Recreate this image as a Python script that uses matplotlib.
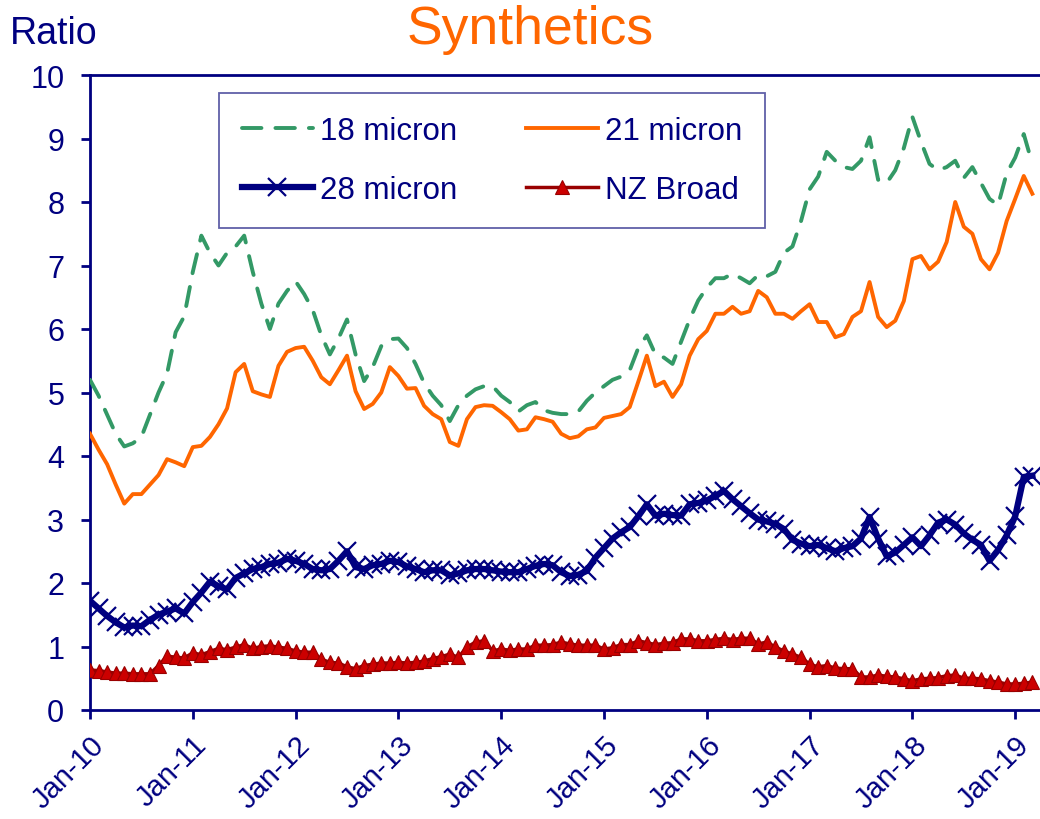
import matplotlib
matplotlib.use("Agg")
import matplotlib.pyplot as plt
import numpy as np

plt.rcParams['font.family'] = ['Liberation Sans', 'DejaVu Sans']

NAVY = '#000080'

# ---- data (monthly, Jan-10 .. Mar-19) ----
tick_labels = ['Jan-10', 'Jan-11', 'Jan-12', 'Jan-13', 'Jan-14', 'Jan-15',
               'Jan-16', 'Jan-17', 'Jan-18', 'Jan-19']
series_names = ['18 micron', '21 micron', '28 micron', 'NZ Broad']

micron18 = [5.2, 4.95, 4.65, 4.35, 4.15, 4.2, 4.3, 4.65, 5.0, 5.3,
            5.95, 6.2, 6.9, 7.47, 7.2, 7.0, 7.2, 7.3, 7.47, 6.9,
            6.4, 6.0, 6.4, 6.6, 6.75, 6.55, 6.3, 5.9, 5.6, 5.85,
            6.15, 5.6, 5.18, 5.4, 5.73, 5.84, 5.85, 5.7, 5.45, 5.15,
            4.95, 4.8, 4.55, 4.8, 4.95, 5.05, 5.1, 5.1, 4.95, 4.85,
            4.7, 4.8, 4.85, 4.72, 4.68, 4.66, 4.66, 4.7, 4.87, 5.0,
            5.1, 5.2, 5.25, 5.35, 5.7, 5.9, 5.6, 5.55, 5.45, 5.8,
            6.15, 6.45, 6.65, 6.8, 6.8, 6.87, 6.8, 6.72, 6.85, 6.83,
            6.9, 7.2, 7.3, 7.7, 8.2, 8.4, 8.79, 8.65, 8.55, 8.52,
            8.65, 9.02, 8.35, 8.3, 8.5, 8.85, 9.34, 8.95, 8.6, 8.5,
            8.55, 8.65, 8.38, 8.55, 8.3, 8.05, 7.95, 8.45, 8.7, 9.07,
            8.6]

micron21 = [4.35, 4.1, 3.87, 3.55, 3.25, 3.4, 3.4, 3.55, 3.7, 3.95,
            3.9, 3.84, 4.14, 4.16, 4.3, 4.5, 4.75, 5.32, 5.45, 5.02,
            4.97, 4.93, 5.42, 5.64, 5.7, 5.72, 5.5, 5.24, 5.13, 5.35,
            5.58, 5.02, 4.74, 4.82, 5.0, 5.4, 5.26, 5.06, 5.07, 4.79,
            4.66, 4.58, 4.22, 4.16, 4.58, 4.77, 4.8, 4.79, 4.69, 4.58,
            4.4, 4.42, 4.61, 4.58, 4.54, 4.35, 4.28, 4.31, 4.42, 4.45,
            4.6, 4.63, 4.66, 4.77, 5.17, 5.58, 5.1, 5.17, 4.93, 5.13,
            5.58, 5.84, 5.97, 6.24, 6.24, 6.35, 6.24, 6.28, 6.6, 6.5,
            6.24, 6.24, 6.16, 6.28, 6.39, 6.11, 6.11, 5.87, 5.92, 6.19,
            6.28, 6.74, 6.19, 6.03, 6.13, 6.44, 7.1, 7.15, 6.94, 7.06,
            7.37, 8.0, 7.61, 7.5, 7.1, 6.94, 7.2, 7.7, 8.05, 8.41,
            8.13]

micron28 = [1.72, 1.6, 1.48, 1.38, 1.3, 1.33, 1.32, 1.42, 1.5, 1.55,
            1.6, 1.52, 1.7, 1.85, 2.02, 1.95, 1.9, 2.08, 2.15, 2.22,
            2.25, 2.3, 2.32, 2.38, 2.35, 2.3, 2.22, 2.2, 2.22, 2.35,
            2.5, 2.25, 2.22, 2.28, 2.3, 2.35, 2.33, 2.26, 2.22, 2.17,
            2.2, 2.2, 2.12, 2.15, 2.2, 2.22, 2.22, 2.2, 2.18, 2.17,
            2.17, 2.22, 2.27, 2.3, 2.28, 2.17, 2.11, 2.13, 2.19, 2.4,
            2.55, 2.7, 2.8, 2.88, 3.05, 3.24, 3.06, 3.09, 3.07, 3.06,
            3.24, 3.26, 3.3, 3.37, 3.45, 3.32, 3.21, 3.1, 3.0, 2.97,
            2.93, 2.85, 2.68, 2.62, 2.58, 2.6, 2.55, 2.5, 2.55, 2.58,
            2.7, 3.04, 2.7, 2.42, 2.48, 2.6, 2.72, 2.58, 2.75, 2.95,
            3.0, 2.92, 2.78, 2.68, 2.6, 2.35, 2.52, 2.75, 3.05, 3.67,
            3.69]

nz_broad = [0.63, 0.62, 0.6, 0.58, 0.58, 0.57, 0.57, 0.57, 0.7, 0.85,
            0.83, 0.82, 0.9, 0.87, 0.92, 0.97, 0.95, 0.99, 1.03, 0.97,
            1.0, 1.01, 0.99, 0.97, 0.93, 0.91, 0.91, 0.8, 0.75, 0.74,
            0.68, 0.65, 0.7, 0.72, 0.74, 0.74, 0.75, 0.74, 0.75, 0.77,
            0.81, 0.84, 0.88, 0.83, 0.99, 1.07, 1.09, 0.93, 0.96, 0.94,
            0.96, 0.96, 1.02, 1.02, 1.03, 1.07, 1.04, 1.02, 1.02, 1.02,
            0.96, 0.98, 1.03, 1.03, 1.09, 1.06, 1.03, 1.05, 1.06, 1.12,
            1.12, 1.09, 1.09, 1.11, 1.13, 1.11, 1.13, 1.13, 1.04, 1.07,
            0.99, 0.93, 0.88, 0.83, 0.72, 0.68, 0.7, 0.66, 0.65, 0.65,
            0.52, 0.52, 0.55, 0.53, 0.52, 0.49, 0.46, 0.49, 0.5, 0.51,
            0.54, 0.55, 0.5, 0.5, 0.49, 0.46, 0.44, 0.41, 0.41, 0.42,
            0.44]

months = np.arange(len(micron18))
tick_pos = np.arange(len(tick_labels)) * 12

# ---- figure ----
W, H = 1040, 820
fig = plt.figure(figsize=(W / 100, H / 100), dpi=100)
left, right, bottom, top = 90, 1040, 711, 76
ax = fig.add_axes([left / W, 1 - bottom / H, (right - left) / W, (bottom - top) / H])

l18, = ax.plot(months, micron18, color='#339966', lw=2.8, linestyle=(0, (5, 3.6)),
               dash_capstyle='round', label=series_names[0], zorder=3)
l21, = ax.plot(months, micron21, color='#FF6600', lw=2.8, label=series_names[1], zorder=3)
l28, = ax.plot(months, micron28, color=NAVY, lw=4.5, marker='x', markersize=13,
               markeredgewidth=1.6, label=series_names[2], zorder=4)
lnz, = ax.plot(months, nz_broad, color='#990000', lw=2.5, marker='^', markersize=9.5,
               markerfacecolor='#CC0000', markeredgecolor='#990000', markeredgewidth=0.8,
               label=series_names[3], zorder=4)

px_per_month = 102.8 / 12
ax.set_xlim(0, (right - left) / px_per_month)
ax.set_ylim(0, 10)
ax.set_yticks(range(0, 11))
ax.set_xticks(tick_pos)
ax.set_xticklabels(tick_labels, rotation=45, ha='right', rotation_mode='anchor')

for s in ['left', 'bottom', 'top']:
    ax.spines[s].set_color(NAVY)
    ax.spines[s].set_linewidth(2.0)
ax.spines['right'].set_visible(False)

ax.tick_params(axis='both', direction='out', length=6.5, width=2.0, color=NAVY,
               labelcolor=NAVY)
ax.tick_params(axis='y', pad=12, labelsize=22)
ax.tick_params(axis='x', pad=8, labelsize=21)

fig.text(530 / W, 1 - 30 / H, 'Synthetics', ha='center', va='center',
         fontsize=38.5, color='#FF6600')
fig.text(10 / W, 1 - 34 / H, 'Ratio', ha='left', va='center', fontsize=27, color=NAVY)

leg = ax.legend(handles=[l18, l28, l21, lnz], ncol=2, loc='upper left',
                bbox_to_anchor=(219 / W, 1 - 94 / H), bbox_transform=fig.transFigure,
                fontsize=22.5, frameon=True, fancybox=False, framealpha=1,
                numpoints=1, handlelength=2.3, handletextpad=0.22, columnspacing=2.2,
                labelspacing=0.95, borderpad=0.72, borderaxespad=0)
leg.get_frame().set_edgecolor('#6060A8')
leg.get_frame().set_linewidth(1.3)
for t in leg.get_texts():
    t.set_color(NAVY)

fig.savefig('out.png', dpi=100)
